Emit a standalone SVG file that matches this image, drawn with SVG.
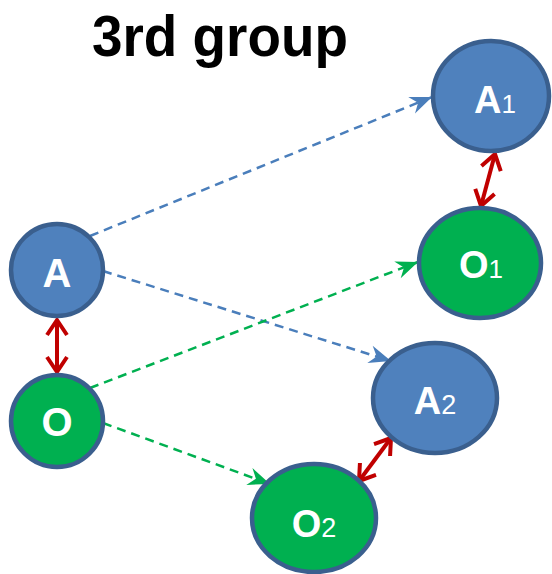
<svg xmlns="http://www.w3.org/2000/svg" width="552" height="574" viewBox="0 0 552 574">
<style>
.node{stroke:#3A5F8E;stroke-width:4.5}
.blue{fill:#4F81BD}
.green{fill:#00B050}
.lbl{font-family:"Liberation Sans",Arial,sans-serif;font-weight:bold;fill:#fff;text-anchor:middle}
.sub{font-weight:normal}
.db{stroke:#4A7EBB;stroke-width:2.5;stroke-dasharray:9 6;fill:none}
.dg{stroke:#00B050;stroke-width:2.5;stroke-dasharray:9 6;fill:none}
.red{stroke:#C00000;stroke-width:4;fill:none}
</style>
<defs>
<marker id="ab" markerUnits="userSpaceOnUse" markerWidth="30" markerHeight="30" viewBox="-25 -15 30 30" refX="0" refY="0" orient="auto">
<path d="M0,0 L-22,-9 L-15,0 L-22,9 Z" fill="#4A7EBB"/>
</marker>
<marker id="ag" markerUnits="userSpaceOnUse" markerWidth="30" markerHeight="30" viewBox="-25 -15 30 30" refX="0" refY="0" orient="auto">
<path d="M0,0 L-22,-9 L-15,0 L-22,9 Z" fill="#00B050"/>
</marker>
<marker id="ar" markerUnits="userSpaceOnUse" markerWidth="30" markerHeight="30" viewBox="-20 -15 30 30" refX="0" refY="0" orient="auto-start-reverse">
<path d="M-15,-10 L0,0 L-15,10" fill="none" stroke="#C00000" stroke-width="4" stroke-linejoin="miter"/>
</marker>
</defs>
<text x="220" y="56" font-family="'Liberation Sans',Arial,sans-serif" font-weight="bold" font-size="58" text-anchor="middle" textLength="256" lengthAdjust="spacingAndGlyphs">3rd group</text>
<g id="connectors">
<line class="db" x1="90" y1="236" x2="432" y2="97" marker-end="url(#ab)"/>
<line class="db" x1="103" y1="271" x2="391" y2="361" marker-end="url(#ab)"/>
<line class="dg" x1="90" y1="388" x2="418" y2="262" marker-end="url(#ag)"/>
<line class="dg" x1="103" y1="423" x2="270" y2="484" marker-end="url(#ag)"/>
<line class="red" x1="57" y1="320" x2="57" y2="372" marker-start="url(#ar)" marker-end="url(#ar)"/>
<line class="red" x1="495" y1="154" x2="481" y2="206" marker-start="url(#ar)" marker-end="url(#ar)"/>
<line class="red" x1="391" y1="438" x2="359" y2="481" marker-start="url(#ar)" marker-end="url(#ar)"/>
</g>
<g id="A">
<circle class="node blue" cx="57" cy="270" r="46"/>
<text class="lbl" x="57" y="287" font-size="40">A</text>
</g>
<g id="O">
<circle class="node green" cx="57" cy="421" r="46"/>
<text class="lbl" x="57" y="436" font-size="40">O</text>
</g>
<g id="A1">
<ellipse class="node blue" cx="491" cy="96" rx="58" ry="55"/>
<text class="lbl" x="495" y="113" font-size="38">A<tspan class="sub" font-size="26">1</tspan></text>
</g>
<g id="O1">
<ellipse class="node green" cx="480" cy="263" rx="61" ry="55"/>
<text class="lbl" x="481" y="278" font-size="38">O<tspan class="sub" font-size="26">1</tspan></text>
</g>
<g id="A2">
<ellipse class="node blue" cx="435" cy="398" rx="62" ry="55"/>
<text class="lbl" x="435" y="414" font-size="38">A<tspan class="sub" font-size="27">2</tspan></text>
</g>
<g id="O2">
<ellipse class="node green" cx="314" cy="518" rx="62" ry="54"/>
<text class="lbl" x="314" y="537" font-size="38">O<tspan class="sub" font-size="27">2</tspan></text>
</g>
</svg>
